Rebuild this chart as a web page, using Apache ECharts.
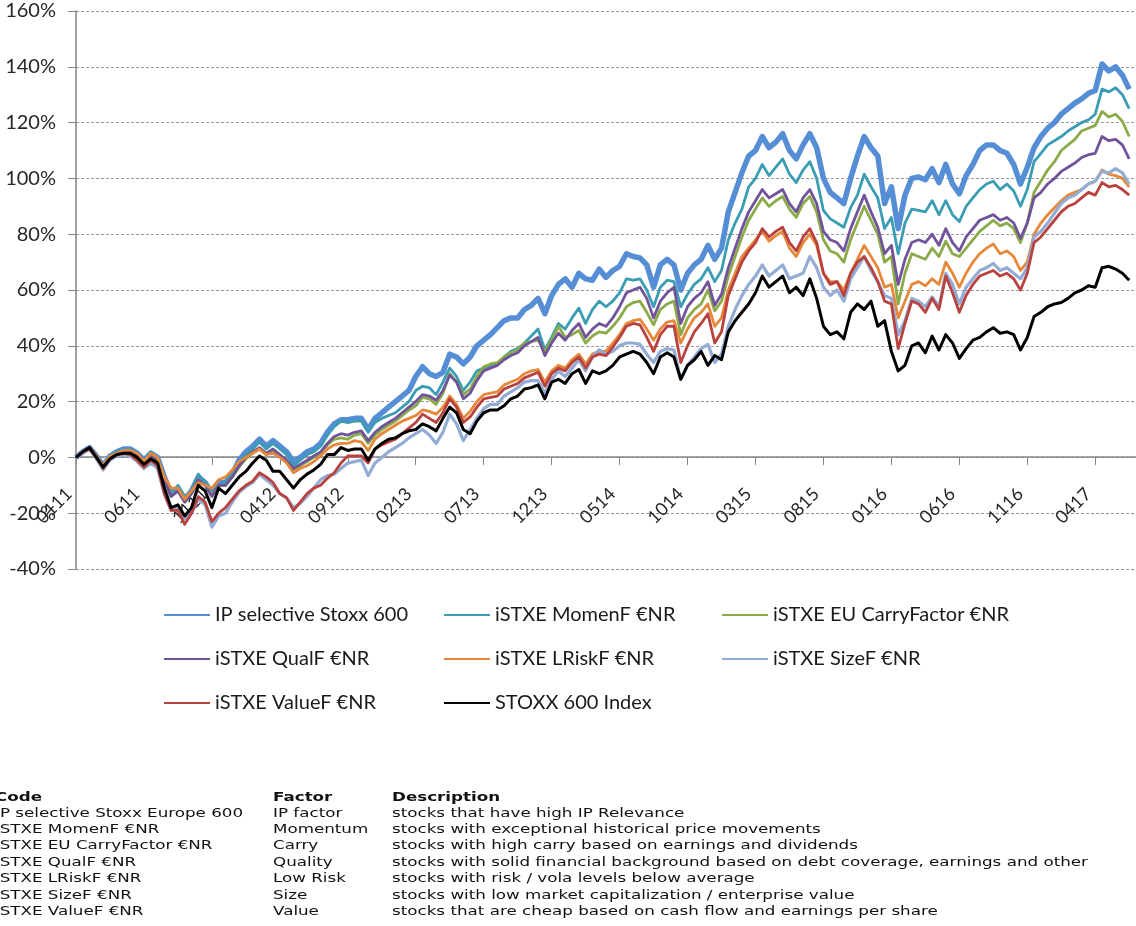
<!DOCTYPE html>
<html lang="en">
<head>
    <meta charset="UTF-8">
    <title>IP selective Stoxx 600 vs factor indices</title>
    <style>
        html, body { margin: 0; padding: 0; background: #fff; }
    </style>
</head>
<body>
<div id="main" style="width: 1136px;height:926px;"></div>
<script src="https://cdn.jsdelivr.net/npm/echarts/dist/echarts.min.js"></script>
<script>
    // half-monthly points, starting Jan 2011
    var startYear = 2011, pointCount = 157;

    var ipSelective = [
        0, 2, 3.5, 0.5, -3, 0.5, 2, 3, 3, 1.5,
        -1, 1.5, 0, -7, -13, -11, -15, -12, -7, -9,
        -13, -9, -9, -6, -1, 2, 4, 6.5, 4, 6,
        4, 2, -1.5, 0, 2, 3, 5, 9, 12, 13.5,
        13.5, 14, 14, 10, 14, 16, 18, 20, 22, 24,
        29, 32.5, 30, 29, 30.5, 37, 36, 33.5, 36, 40,
        42, 44, 46.5, 49, 50, 50, 53, 54.5, 57, 51.5,
        58, 62, 64, 61, 66, 64, 63.5, 67.5, 64.5, 67,
        68.5, 73, 72, 71.5, 69, 61, 69, 71, 69, 60,
        66, 69, 71, 76, 71, 75, 88, 95, 102, 108,
        110, 115, 111, 113, 116, 110, 107, 112, 116, 111,
        100, 95, 93, 91, 100, 108, 115, 111, 108, 91,
        97, 82, 94, 100, 100.5, 99.5, 103.5, 98.5, 105, 98,
        94.5, 101, 105, 110, 112, 112, 110, 109, 105, 98,
        104, 111, 115, 118, 120, 123, 125, 127, 128.5, 130.5,
        131.5, 141, 138.5, 140, 137, 132
    ];
    var momentum = [
        0, 2, 3.5, 0.5, -3.5, 0.5, 2, 2.5, 3, 1,
        -1.5, 2, -0.5, -8, -13, -10, -14, -12, -6, -9,
        -13, -10, -9, -6, -2, 1, 3, 5.5, 3, 5,
        3, 1, -3, -1, 1, 2, 4, 8, 11, 13,
        12.5, 13, 13, 9, 12.5, 14, 15, 16, 18, 20,
        24, 25.5, 25, 22.5, 27, 32, 29, 24, 27, 31,
        32, 33, 33.5, 36, 38, 39, 41, 43.5, 46, 38.5,
        43, 48, 46, 50, 53.5, 48, 53, 56, 54, 56,
        59, 64, 63.5, 64, 60, 54, 61, 63.5, 63, 54,
        58.5, 62, 64, 68, 63, 67, 78, 84, 89, 97,
        100, 105, 101, 104, 107, 101.5, 98.5, 103, 106, 100,
        88.5, 85.5, 84, 82.5, 89.5, 94, 101.5, 97, 93, 82,
        86, 73, 84, 89, 88.5, 88, 92, 87, 92, 87,
        84.5, 90, 93, 96, 98, 99, 96, 98, 95.5, 90,
        96, 106, 109, 112, 113.5, 115, 117, 118.5, 120, 121,
        123, 132, 131, 132.5, 130, 125
    ];
    var carry = [
        0, 2, 3.5, 0.5, -3.5, 0, 1.5, 2, 2.5, 1,
        -2, 1, -1, -8, -14, -12, -16, -13, -8, -10,
        -13.5, -10, -10, -7, -3.5, -0.5, 1.5, 3, 1, 2.5,
        0.5, -1.5, -5, -3, -1.5, 0, 1.5, 4.5, 6.5, 7,
        6.5, 8, 8.5, 5, 8, 10, 11.5, 13, 15, 17,
        18.5, 21.5, 21, 19, 23, 30, 27, 22.5, 24.5, 29,
        32.5, 33.5, 34, 36, 37.5, 38.5, 41, 41.5, 42, 38,
        42, 47, 43, 44, 45.5, 41, 43.5, 45, 44.5, 47,
        50, 54, 55.5, 56, 52, 47.5, 53, 55, 56, 44,
        50, 53, 55, 60, 52.5, 56, 65, 72, 79, 85,
        89, 93, 90, 92, 93.5, 89, 86, 91, 93.5, 88,
        78, 74, 73, 70, 78, 84, 90, 85, 80, 70,
        72, 55, 66, 73, 72, 71, 75, 72, 77.5, 73,
        72, 75, 78, 81, 83, 85, 83, 84, 82, 77,
        84, 95, 99, 103, 106, 110, 112, 114, 117, 118,
        119, 124, 122, 123, 120.5, 115
    ];
    var quality = [
        0, 2, 3.5, 0.5, -3.5, 0, 1.5, 2, 2.5, 1,
        -2, 1, -1, -8, -14, -12, -16, -13, -8, -10,
        -14, -10, -10, -7, -3, 0, 2, 3.5, 1.5, 3,
        1, -1, -4, -2.5, -1, 0.5, 2, 5, 7.5, 8.5,
        8, 9, 9.5, 6, 9, 11, 12.5, 14, 16, 18,
        20, 22.5, 22, 20.5, 24, 29.5, 27, 21, 23, 27.5,
        31, 32, 33, 35, 36.5, 37.5, 40, 41.5, 43, 36.5,
        41, 44.5, 42, 45.5, 48, 43, 46, 48, 47, 50,
        54, 59, 60, 61, 57, 50, 56, 59, 61, 48,
        54, 57, 59, 63, 54.5, 58.5, 68, 75, 82, 88,
        92, 96, 93, 94.5, 96, 91, 88, 93, 96, 91,
        81, 78, 77, 74, 82, 88, 94, 88, 82.5, 73,
        76, 62, 71, 77, 78, 77, 80, 76, 82, 77,
        74, 79, 82, 85, 86, 87, 85, 86, 84, 78.5,
        84, 93, 95, 98, 100, 102.5, 104, 105.5, 107.5, 108.5,
        109, 115, 113.5, 114, 112, 107
    ];
    var lowRisk = [
        0, 2, 3.5, 0.5, -3, 0.5, 1.5, 2.5, 2.5, 1.5,
        -1.5, 1.5, 0, -7, -11, -11, -15, -12, -9, -10,
        -11, -8, -7, -4.5, -1.5, 0, 1.5, 3, 1, 1.5,
        0, -2, -5.5, -4, -3, -1.5, 0.5, 3, 4.5, 5,
        5, 6, 5.5, 2.5, 6.5, 8.5, 10, 11.5, 13, 14,
        15, 17, 16.5, 15.5, 18, 22, 19, 14, 16.5, 20,
        22.5, 23, 23.5, 26, 27, 28, 30, 31, 31.5, 27,
        31, 33, 32, 35, 37, 33.5, 37, 38, 38, 41,
        44, 48, 49, 49.5, 46, 42, 46, 48.5, 49, 41,
        46, 50, 52, 55, 47, 50, 60, 66, 72, 75,
        78, 81, 77.5, 79.5, 81, 75, 72, 77, 80, 76,
        66, 63, 63, 60, 66, 71, 76, 72, 68, 61,
        62, 50, 56, 62, 63, 61.5, 64, 62, 70, 66,
        61, 66, 70, 73, 75, 76.5, 73, 74, 72, 67,
        70, 80, 84, 87, 89.5, 92, 94, 95, 96, 98,
        99, 103, 101.5, 101, 100, 97
    ];
    var size = [
        0, 1.5, 3, -0.5, -4.5, -1, 0.5, 1, 0.5, -1.5,
        -4, -2, -4, -13, -19, -18, -22, -20, -15, -17,
        -25, -21, -20, -16, -12.5, -10.5, -9, -6, -8, -10,
        -13, -14.5, -18, -16.5, -14, -11, -8, -6.5, -6, -4,
        -2, -1.5, -1, -6.5, -2, 0, 2, 3.5, 5, 7,
        8.5, 10, 8, 5, 9, 15.5, 12, 6, 10, 14,
        17.5, 19, 19, 22, 23.5, 25, 27, 27.5, 27.5, 23,
        28, 31, 29, 32, 35, 31, 36, 38.5, 37, 38,
        40, 41, 41, 40.5, 37, 34, 38, 39, 38.5, 28,
        33, 36, 39, 40.5, 34, 37, 47, 53, 58, 62,
        65, 69, 65, 67, 69, 64, 65, 66, 72, 68,
        61, 58, 60, 56, 64, 68, 72, 67, 63, 58,
        57, 44, 49, 57, 56, 54, 57.5, 54, 66, 62,
        55, 61, 64, 67, 68, 69.5, 67, 68, 66, 64,
        68, 79, 81, 84, 87.5, 91, 93, 94, 96, 98,
        99, 102.5, 102, 103.5, 102, 98
    ];
    var value = [
        0, 2, 3, 0, -4, -0.5, 1, 1.5, 1, -1,
        -3.5, -1, -3, -13, -19, -19, -24, -20, -14, -16,
        -23, -20, -18, -15, -12, -10, -8.5, -5.5, -7, -9,
        -13, -14.5, -19, -16, -13, -11, -10, -7.5, -5.5, -2,
        0.5, 0.5, 0.5, -2, 3, 4.5, 5.5, 6.5, 8.5, 10.5,
        12.5, 15.5, 14, 12.5, 16, 21, 18, 12.5, 14.5, 18,
        21, 21.5, 22, 24.5, 25.5, 26.5, 28.5, 29.5, 30.5, 25.5,
        30, 32, 31, 34, 36, 32, 36, 37, 36.5, 39.5,
        43, 47, 48, 47.5, 43, 38, 44, 47, 47, 34,
        40, 45, 48, 51.5, 41, 45, 58, 64, 70, 74,
        77, 82, 79, 81, 82.5, 77, 74, 79, 82, 77,
        66, 62, 63, 58, 66, 70, 72, 68, 63, 56,
        55, 39, 48, 56, 55, 52, 57, 53, 65, 59,
        52, 58, 62, 65, 66, 67, 65, 66, 64, 60,
        66, 77, 79, 82, 85, 88, 90, 91, 93, 95,
        94, 98.5, 97, 97.5, 96, 94
    ];
    var stoxx600 = [
        0, 2, 3.5, 0, -3.5, -0.5, 1, 1.5, 1.5, 0,
        -2.5, -0.5, -2, -11, -18, -17, -21, -18, -10, -12,
        -18, -11, -13, -10, -7, -5, -2, 0.5, -1, -5,
        -5, -8, -11, -8, -6, -4.5, -2.5, 1, 1, 3.5,
        2.5, 3, 3, -1, 3, 5, 6.5, 7, 8.5, 9.5,
        10, 12, 11, 9.5, 14, 18, 16, 10, 8.5, 13,
        16, 17, 17, 18.5, 21, 22, 24.5, 25, 26, 21,
        27, 28, 26.5, 30, 31.5, 26.5, 31, 30, 31, 33,
        36, 37, 38, 37, 34, 30, 36, 37.5, 36, 28,
        33, 35, 38, 33, 36.5, 35, 45, 49, 52, 55,
        59, 65, 61, 63, 65, 59, 61, 58, 64, 57,
        47, 44, 45, 42.5, 52, 55, 53, 56, 47, 49,
        38, 31, 33, 40, 41, 37.5, 43.5, 38.5, 44, 41,
        35.5, 39, 42, 43, 45, 46.5, 44.5, 45, 44, 38.5,
        43, 50.5, 52, 54, 55, 55.5, 57, 59, 60, 61.5,
        61, 68, 68.5, 67.5, 66, 63.5
    ];

    var seriesNames = ['IP selective Stoxx 600', 'iSTXE MomenF €NR', 'iSTXE EU CarryFactor €NR',
        'iSTXE QualF €NR', 'iSTXE LRiskF €NR', 'iSTXE SizeF €NR', 'iSTXE ValueF €NR', 'STOXX 600 Index'];
    var seriesData = [ipSelective, momentum, carry, quality, lowRisk, size, value, stoxx600];
    var seriesColors = ['#558ed5', '#3a9db3', '#8aab47', '#70539a', '#e6883a', '#93acd6', '#b9413e', '#000000'];
    var seriesWidths = [5.5, 2.8, 2.8, 2.8, 2.8, 3.2, 2.8, 3];

    var tableCodes = ['IP selective Stoxx Europe 600', 'iSTXE MomenF €NR', 'iSTXE EU CarryFactor €NR',
        'iSTXE QualF €NR', 'iSTXE LRiskF €NR', 'iSTXE SizeF €NR', 'iSTXE ValueF €NR'];
    var tableFactors = ['IP factor', 'Momentum', 'Carry', 'Quality', 'Low Risk', 'Size', 'Value'];
    var tableDescriptions = [
        'stocks that have high IP Relevance',
        'stocks with exceptional historical price movements',
        'stocks with high carry based on earnings and dividends',
        'stocks with solid financial background based on debt coverage, earnings and other',
        'stocks with risk / vola levels below average',
        'stocks with low market capitalization / enterprise value',
        'stocks that are cheap based on cash flow and earnings per share'
    ];

    // category labels MMYY, two points per month
    var categories = [];
    for (var i = 0; i < pointCount; i++) {
        var m = Math.floor(i / 2);
        var mm = (m % 12) + 1;
        var yy = (startYear + Math.floor(m / 12)) % 100;
        categories.push((mm < 10 ? '0' : '') + mm + (yy < 10 ? '0' : '') + yy + (i % 2 ? 'b' : ''));
    }

    var series = [];
    for (var k = 0; k < seriesNames.length; k++) {
        series.push({
            name: seriesNames[k],
            type: 'line',
            data: seriesData[k],
            symbol: 'none',
            showSymbol: false,
            color: seriesColors[k],
            lineStyle: { width: seriesWidths[k], color: seriesColors[k], join: 'round' }
        });
    }

    var legendBase = {
        orient: 'vertical',
        top: 605,
        padding: 0,
        itemGap: 24,
        itemWidth: 46,
        itemHeight: 14,
        itemStyle: { opacity: 0 },
        textStyle: { fontFamily: 'Lato', fontSize: 20, color: '#1a1a1a', lineHeight: 20 }
    };
    function legendCol(left, names) {
        var l = echarts.util.clone(legendBase);
        l.left = left;
        l.data = names;
        return l;
    }

    var tableFont = { fontFamily: 'DejaVu Sans', fontSize: 13, fill: '#111', lineHeight: 16.4, verticalAlign: 'top' };
    function tableText(x, y, text, bold) {
        return {
            type: 'text', x: x, y: y, scaleX: 1.286, silent: true,
            style: echarts.util.extend({ text: text, fontWeight: bold ? 'bold' : 'normal' }, tableFont)
        };
    }

    var myChart = echarts.init(document.getElementById('main'));
    var option = {
        backgroundColor: '#ffffff',
        animation: false,
        grid: { left: 76, top: 11, width: 1065, height: 558 },
        legend: [
            legendCol(163, [seriesNames[0], seriesNames[3], seriesNames[6]]),
            legendCol(443, [seriesNames[1], seriesNames[4], seriesNames[7]]),
            legendCol(721, [seriesNames[2], seriesNames[5]])
        ],
        xAxis: {
            type: 'category',
            data: categories,
            boundaryGap: false,
            position: 'bottom',
            offset: -112,
            axisLine: { onZero: false, lineStyle: { color: '#868686', width: 1.5 } },
            axisTick: { show: true, interval: 9, length: 8, lineStyle: { color: '#868686' } },
            axisLabel: {
                interval: 9,
                rotate: 45,
                margin: 27,
                padding: [0, 10, 0, 0],
                fontFamily: 'Lato',
                fontSize: 18,
                color: '#262626',
                formatter: function (v) { return v.slice(0, 4); }
            },
            splitLine: { show: false }
        },
        yAxis: {
            type: 'value',
            min: -40,
            max: 160,
            interval: 20,
            axisLine: { show: true, lineStyle: { color: '#868686', width: 1.5 } },
            axisTick: { show: true, length: 8, lineStyle: { color: '#868686' } },
            axisLabel: {
                formatter: '{value}%',
                margin: 20,
                fontFamily: 'Lato',
                fontSize: 20,
                color: '#262626'
            },
            splitLine: { lineStyle: { color: '#9a9a9a', width: 1, type: [3, 2] } }
        },
        graphic: [
            tableText(-5, 789, 'Code', true),
            tableText(273, 789, 'Factor', true),
            tableText(392, 789, 'Description', true),
            tableText(-5, 805, tableCodes.join('\n'), false),
            tableText(273, 805, tableFactors.join('\n'), false),
            tableText(392, 805, tableDescriptions.join('\n'), false)
        ],
        series: series
    };
    myChart.setOption(option);
</script>
</body>
</html>
